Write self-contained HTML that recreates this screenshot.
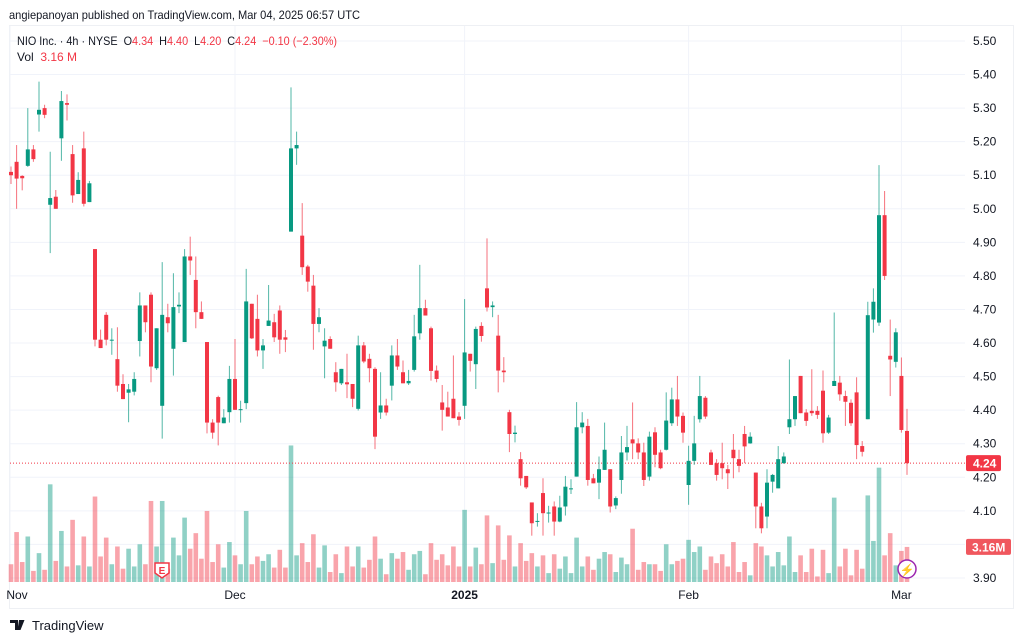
<!DOCTYPE html>
<html><head><meta charset="utf-8">
<style>
body{margin:0;background:#fff;font-family:"Liberation Sans",sans-serif;}
#wrap{position:relative;width:1024px;height:641px;overflow:hidden;}
svg text{font-family:"Liberation Sans",sans-serif;}
</style></head>
<body>
<div id="wrap">
<svg id="chart" width="1024" height="641">
  <text x="9" y="19" font-size="12" textLength="351" lengthAdjust="spacingAndGlyphs" fill="#131722">angiepanoyan published on TradingView.com, Mar 04, 2025 06:57 UTC</text>
  <rect x="9.5" y="25.5" width="1004" height="583" fill="none" stroke="#eef0f4"/>
  <g id="grid"></g>
  <g id="vol"></g>
  <g id="candles"></g>
  <g id="axis"></g>
  <g id="taxis"></g>
  <g font-size="12">
    <text x="17" y="45" fill="#131722" textLength="320" lengthAdjust="spacingAndGlyphs" xml:space="preserve">NIO Inc. · 4h · NYSE  O<tspan fill="#f23645">4.34</tspan>  H<tspan fill="#f23645">4.40</tspan>  L<tspan fill="#f23645">4.20</tspan>  C<tspan fill="#f23645">4.24</tspan>  <tspan fill="#f23645">−0.10 (−2.30%)</tspan></text>
    <text x="17" y="61" fill="#131722" xml:space="preserve">Vol  <tspan fill="#f23645">3.16 M</tspan></text>
  </g>
  <g>
    <path d="M155,563 h14 v10 l-7,5 l-7,-5 z" fill="#fff" stroke="#f23645" stroke-width="1.5"/>
    <text x="162" y="574" font-size="10" font-weight="bold" fill="#f23645" text-anchor="middle">E</text>
  </g>
  <g>
    <circle cx="907" cy="569" r="9" fill="#fff" stroke="#9c27b0" stroke-width="1.5"/>
    <text x="907" y="574" font-size="12" fill="#9c27b0" text-anchor="middle">⚡</text>
  </g>
  <g>
    <path d="M10,620 h8 v10 h-3 v-7 h-5 z M19,620 h2.5 l3,0 -4,10 h-3 z" fill="#131722"/>
    <circle cx="21" cy="621.5" r="1.5" fill="#131722"/>
    <text x="32" y="630" font-size="13" fill="#131722">TradingView</text>
  </g>
</svg>
</div>
<script>
const opens=[5.11,5.14,5.098,5.128,5.177,5.281,5.30,5.012,5.036,5.21,5.315,5.163,5.044,5.18,5.02,4.88,4.61,4.684,4.61,4.552,4.478,4.452,4.455,4.606,4.712,4.744,4.525,
4.413,4.677,4.583,4.709,4.603,4.858,4.788,4.692,4.603,4.363,4.439,4.361,4.394,4.493,4.403,4.421,4.717,4.672,4.578,4.651,4.662,4.697,4.617,4.932,5.18,4.92,4.828,
4.771,4.657,4.59,4.612,4.513,4.48,4.483,4.478,4.404,4.593,4.553,4.523,4.393,4.414,4.473,4.563,4.513,4.48,4.52,4.629,4.704,4.644,4.518,4.423,4.408,4.434,4.381,
4.413,4.568,4.537,4.651,4.763,4.707,4.622,4.518,4.394,4.329,4.254,4.204,4.125,4.067,4.153,4.092,4.113,4.068,4.113,4.164,4.202,4.349,4.353,4.197,4.184,4.222,4.224,
4.116,4.192,4.274,4.313,4.301,4.274,4.202,4.334,4.274,4.282,4.361,4.432,4.383,4.177,4.249,4.373,4.437,4.274,4.242,4.242,4.224,4.282,4.254,4.329,4.301,4.214,
4.113,4.083,4.187,4.167,4.242,4.349,4.373,4.502,4.393,4.398,4.398,4.458,4.333,4.472,4.482,4.442,4.422,4.453,4.293,4.373,4.67,4.661,4.981,4.562,4.544,4.502,4.338];
const highs=[5.126,5.19,5.10,5.30,5.19,5.379,5.31,5.17,5.056,5.351,5.341,5.19,5.109,5.23,5.083,4.88,4.64,4.692,4.644,4.647,4.507,4.478,4.513,4.751,4.712,4.751,4.644,
4.841,4.717,4.808,4.751,4.88,4.917,4.858,4.724,4.603,4.373,4.443,4.403,4.532,4.612,4.428,4.821,4.717,4.744,4.612,4.773,4.687,4.712,4.639,5.362,5.23,5.017,4.833,
4.803,4.704,4.644,4.62,4.543,4.523,4.568,4.478,4.622,4.603,4.568,4.528,4.513,4.434,4.593,4.612,4.548,4.52,4.684,4.833,4.729,4.649,4.533,4.475,4.455,4.563,4.394,
4.731,4.568,4.649,4.662,4.912,4.724,4.684,4.558,4.401,4.354,4.275,4.204,4.125,4.093,4.197,4.115,4.128,4.145,4.204,4.194,4.424,4.394,4.374,4.21,4.262,4.363,4.224,
4.143,4.323,4.353,4.423,4.316,4.303,4.336,4.349,4.282,4.453,4.467,4.502,4.393,4.294,4.383,4.502,4.442,4.282,4.254,4.303,4.237,4.329,4.282,4.353,4.334,4.214,
4.124,4.224,4.21,4.293,4.274,4.551,4.442,4.502,4.403,4.522,4.412,4.518,4.386,4.691,4.502,4.458,4.432,4.498,4.308,4.723,4.763,5.13,5.053,4.67,4.644,4.557,4.404];
const lows=[5.074,5.00,5.055,5.125,5.14,5.23,5.27,4.868,5.0,5.143,5.263,5.018,5.044,5.007,5.02,4.59,4.585,4.593,4.565,4.455,4.433,4.364,4.444,4.56,4.632,4.483,4.52,
4.315,4.632,4.503,4.689,4.603,4.803,4.644,4.672,4.331,4.315,4.295,4.361,4.363,4.401,4.363,4.403,4.612,4.56,4.523,4.651,4.603,4.568,4.573,4.932,5.131,4.803,4.753,
4.58,4.632,4.495,4.583,4.455,4.475,4.436,4.409,4.399,4.54,4.483,4.284,4.374,4.384,4.429,4.52,4.48,4.475,4.515,4.61,4.682,4.488,4.483,4.339,4.381,4.376,4.354,
4.374,4.515,4.463,4.604,4.694,4.677,4.453,4.483,4.275,4.304,4.175,4.165,4.026,4.053,4.026,4.065,4.026,4.066,4.086,4.15,4.202,4.331,4.175,4.182,4.135,4.222,4.095,
4.105,4.151,4.25,4.254,4.254,4.174,4.19,4.23,4.224,4.28,4.353,4.353,4.303,4.118,4.237,4.363,4.374,4.237,4.19,4.194,4.165,4.197,4.215,4.242,4.3,4.048,
4.033,4.048,4.154,4.167,4.24,4.329,4.353,4.391,4.353,4.383,4.374,4.303,4.329,4.472,4.428,4.353,4.353,4.254,4.262,4.373,4.631,4.651,4.788,4.442,4.527,4.333,4.207];
const closes=[5.10,5.09,5.091,5.177,5.148,5.295,5.28,5.032,5.0,5.321,5.31,5.04,5.086,5.015,5.076,4.61,4.585,4.61,4.61,4.473,4.433,4.462,4.493,4.712,4.662,4.53,4.644,
4.684,4.659,4.707,4.714,4.858,4.846,4.692,4.672,4.363,4.333,4.363,4.378,4.493,4.401,4.403,4.724,4.614,4.578,4.593,4.667,4.617,4.61,4.61,5.18,5.19,4.826,4.783,
4.657,4.677,4.607,4.583,4.483,4.523,4.477,4.434,4.593,4.545,4.525,4.321,4.414,4.393,4.563,4.53,4.48,4.487,4.62,4.704,4.682,4.517,4.493,4.401,4.381,4.376,4.371,
4.572,4.547,4.642,4.621,4.706,4.712,4.518,4.513,4.329,4.333,4.197,4.17,4.063,4.07,4.093,4.095,4.068,4.11,4.172,4.167,4.349,4.363,4.192,4.182,4.224,4.282,4.113,
4.138,4.274,4.29,4.301,4.274,4.192,4.321,4.267,4.227,4.369,4.432,4.381,4.333,4.249,4.301,4.442,4.381,4.237,4.207,4.227,4.212,4.257,4.234,4.292,4.321,4.113,
4.048,4.184,4.207,4.254,4.262,4.373,4.442,4.391,4.368,4.391,4.386,4.331,4.378,4.487,4.447,4.425,4.361,4.296,4.276,4.683,4.723,4.981,4.80,4.551,4.632,4.341,4.242];
const volumes=[1.6,4.5,1.8,4.1,1.0,2.6,1.1,8.8,1.9,4.6,1.4,5.6,1.5,4.1,1.4,7.7,2.3,4.0,1.6,3.2,1.2,3.0,1.4,3.4,1.6,7.3,3.2,
7.3,1.2,4.0,2.4,5.8,3.0,4.4,2.1,6.4,1.8,3.4,1.3,3.6,2.4,1.6,6.4,1.6,2.3,1.9,2.5,1.3,2.9,1.3,12.3,2.4,3.5,1.8,
4.3,1.3,3.3,0.9,2.5,0.8,3.2,1.4,3.2,1.3,2.0,4.1,2.1,0.7,2.6,2.1,2.7,1.1,2.5,2.8,0.7,3.5,2.0,2.5,1.5,3.2,1.4,
6.5,1.4,3.1,1.6,6.0,1.7,5.1,2.0,4.2,1.4,3.5,1.9,2.6,1.4,2.4,0.8,2.5,1.2,2.3,0.8,4.0,1.4,2.3,1.1,2.1,2.7,2.5,
0.9,2.2,1.6,4.8,1.1,1.8,1.6,1.6,1.0,3.4,1.6,1.9,2.1,3.8,2.7,3.2,1.1,2.3,1.7,2.5,1.4,3.6,0.9,1.8,0.6,3.5,
3.2,2.4,1.4,2.7,1.5,4.1,0.9,2.4,0.9,3.0,0.5,2.9,0.8,7.6,1.4,3.0,0.6,2.9,1.2,7.8,3.7,10.3,2.4,4.4,1.5,2.8,3.16];
const priceTicks=[5.50,5.40,5.30,5.20,5.10,5.00,4.90,4.80,4.70,4.60,4.50,4.40,4.30,4.20,4.10,3.90];
const timeLabels=["Nov","Dec","2025","Feb","Mar"];
const timeLabelBars=[0,40,81,121,159];

const NS="http://www.w3.org/2000/svg";
const UP="#089981",DN="#f23645";
function xAt(i){return 11+i*5.6;}
function yAt(p){return 41+(5.5-p)*335.6;}
function vY(v){return 582-v*11.1;}
function mk(tag,attrs,parent){const e=document.createElementNS(NS,tag);for(const k in attrs)e.setAttribute(k,attrs[k]);parent.appendChild(e);return e;}

const grid=document.getElementById('grid');
priceTicks.concat([4.0]).forEach(p=>{
  const l=mk('line',{x1:10,x2:965,y1:yAt(p),y2:yAt(p),stroke:'#f0f3fa','stroke-width':1},grid);
  
  
});
timeLabelBars.forEach(b=>{
  const x=b===0?10:xAt(b);
  const l=mk('line',{x1:x,x2:x,y1:26,y2:582,stroke:'#f0f3fa','stroke-width':1},grid);
  
  
});

const vol=document.getElementById('vol');
volumes.forEach((v,i)=>{
  const up=closes[i]>=opens[i];
  const r=mk('rect',{x:xAt(i)-2.3,y:vY(v),width:4.6,height:582-vY(v),fill:up?'rgba(8,153,129,0.45)':'rgba(242,54,69,0.45)'},vol);
  
  
});

const cg=document.getElementById('candles');
const last=closes[closes.length-1];
const pl=mk('line',{x1:10,x2:965,y1:yAt(last),y2:yAt(last),stroke:DN,'stroke-width':1,'stroke-dasharray':'1,2'},cg);


opens.forEach((o,i)=>{
  const c=closes[i],up=c>=o,col=up?UP:DN,x=xAt(i);
  const g=mk('g',{},cg);
  
  
  mk('line',{x1:x,x2:x,y1:yAt(highs[i]),y2:yAt(lows[i]),stroke:col,'stroke-width':1,'stroke-opacity':0.7},g);
  const top=yAt(Math.max(o,c)),bot=yAt(Math.min(o,c));
  mk('rect',{x:x-2,y:top,width:4,height:Math.max(1,bot-top),fill:col},g);
});

const ax=document.getElementById('axis');
priceTicks.forEach(p=>{
  const t=mk('text',{x:973,y:yAt(p)+4,'font-size':12,fill:'#131722'},ax);
  t.textContent=p.toFixed(2);
  
  
});
const pr=mk('rect',{x:966,y:yAt(last)-8,width:35,height:16,rx:2,fill:DN},ax);


const pt=mk('text',{x:973,y:yAt(last)+4.5,'font-size':12,'font-weight':'bold',fill:'#fff'},ax);
pt.textContent=last.toFixed(2);


const lv=volumes[volumes.length-1];
const vr=mk('rect',{x:966,y:vY(lv)-8,width:45,height:16,rx:2,fill:'#f0575e'},ax);


const vt=mk('text',{x:972,y:vY(lv)+4.5,'font-size':12,'font-weight':'bold',fill:'#fff'},ax);
vt.textContent=lv.toFixed(2)+'M';



const ta=document.getElementById('taxis');
timeLabels.forEach((s,k)=>{
  const b=timeLabelBars[k];
  const x=b===0?17:xAt(b);
  const t=mk('text',{x:x,y:599,'font-size':12,fill:'#131722','text-anchor':'middle','font-weight':s==='2025'?'bold':'normal'},ta);
  t.textContent=s;
  
  
});
</script>
</body></html>
